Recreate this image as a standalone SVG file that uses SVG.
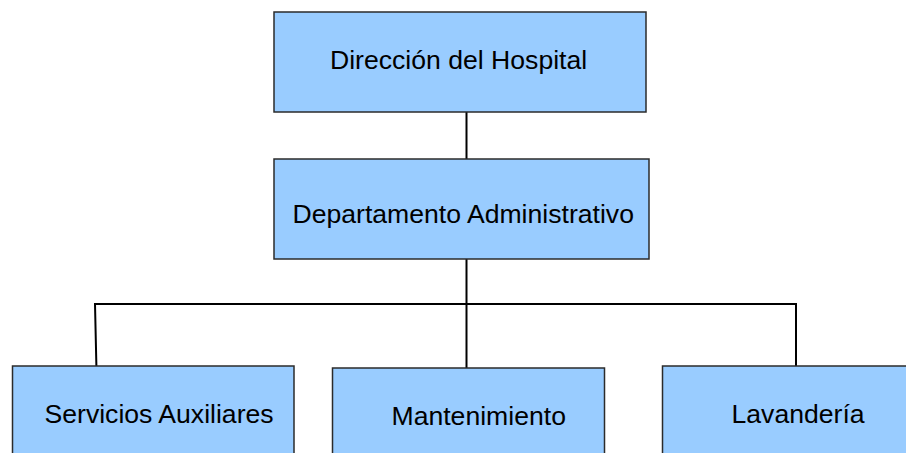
<svg xmlns="http://www.w3.org/2000/svg" width="906" height="453" viewBox="0 0 906 453">
<style>
.box{fill:#99CCFF;stroke:#2b2b2b;stroke-width:1.5}
.lbl{font-family:"Liberation Sans",Arial,sans-serif;font-size:26.6px;fill:#000}
.con{stroke:#000;stroke-width:2;fill:none}
</style>
<rect width="906" height="453" fill="#fff"/>
<g id="connectors">
<line class="con" x1="466.5" y1="112" x2="466.5" y2="159"/>
<line class="con" x1="466.5" y1="259" x2="466.5" y2="368"/>
<polyline class="con" points="96.5,371 95,304 796,304 796,366"/>
</g>
<g id="n1">
<rect class="box" x="274" y="12" width="372" height="100"/>
<text class="lbl" x="330" y="69">Dirección del Hospital</text>
</g>
<g id="n2">
<rect class="box" x="274" y="159" width="375" height="100"/>
<text class="lbl" x="292.5" y="223">Departamento Administrativo</text>
</g>
<g id="n3">
<rect class="box" x="12.5" y="366" width="281.5" height="100"/>
<text class="lbl" x="44.5" y="423">Servicios Auxiliares</text>
</g>
<g id="n4">
<rect class="box" x="332.5" y="368" width="272" height="100"/>
<text class="lbl" x="391.5" y="425">Mantenimiento</text>
</g>
<g id="n5">
<rect class="box" x="662.5" y="366" width="260" height="100"/>
<text class="lbl" x="731.5" y="423">Lavandería</text>
</g>
</svg>
